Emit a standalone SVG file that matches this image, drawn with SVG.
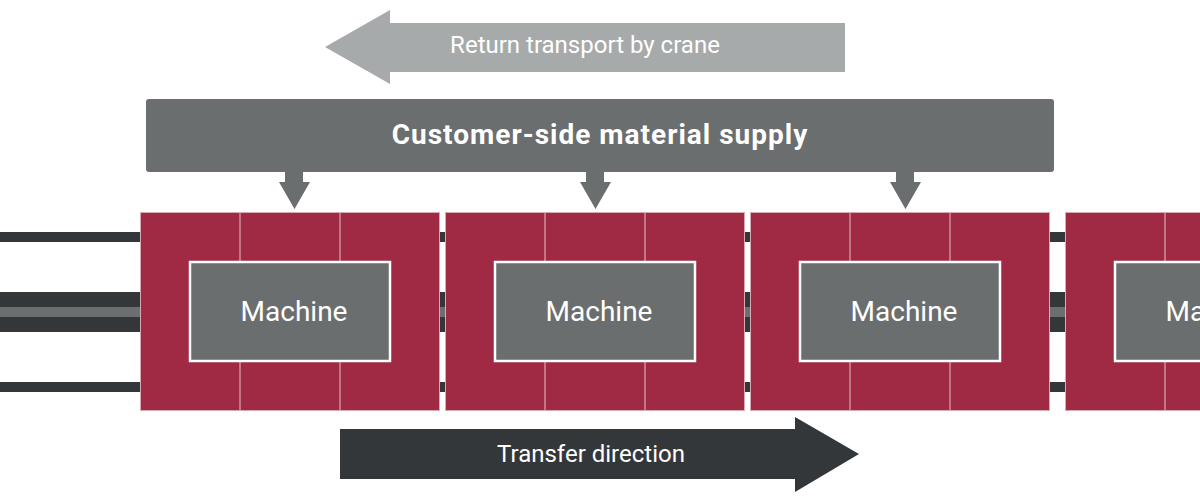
<svg xmlns="http://www.w3.org/2000/svg" width="1200" height="500" viewBox="0 0 1200 500">
<defs>
<style>
.rail{fill:#33373a}
.railmid{fill:#6b6f6f}
.block{fill:#a02944;stroke:#d9a9b4;stroke-width:1}
.div{stroke:#d9a9b4;stroke-width:1.2}
.mach{fill:#6b6e6e;stroke:#ffffff;stroke-width:2.5}
.mtxt{font-family:Roboto,"Liberation Sans",sans-serif;font-size:28px;fill:#ffffff;text-anchor:middle;dominant-baseline:central}
.down{fill:#6b6e6e}
</style>
</defs>
<rect width="1200" height="500" fill="#ffffff"/>

<g id="return-arrow">
<polygon points="325,47 390,10 390,23 845,23 845,72 390,72 390,84" fill="#a7aaaa"/>
<text x="585" y="45" font-family="Roboto,'Liberation Sans',sans-serif" font-size="24" fill="#ffffff" text-anchor="middle" dominant-baseline="central">Return transport by crane</text>
</g>

<g id="supply">
<rect x="146" y="99" width="908" height="73" rx="3" fill="#6b6e6e"/>
<text x="600" y="134" font-family="Roboto,'Liberation Sans',sans-serif" font-size="28" font-weight="bold" letter-spacing="1" fill="#ffffff" text-anchor="middle" dominant-baseline="central">Customer-side material supply</text>
</g>

<g id="rails">
<rect class="rail" x="0" y="232" width="1200" height="10"/>
<rect class="rail" x="0" y="292" width="1200" height="40"/>
<rect class="railmid" x="0" y="307" width="1200" height="10"/>
<rect class="rail" x="0" y="382" width="1200" height="10"/>
</g>

<g id="machine-1">
<rect class="block" x="140.5" y="212.5" width="299" height="198"/>
<line class="div" x1="240" y1="212" x2="240" y2="262"/>
<line class="div" x1="340" y1="212" x2="340" y2="262"/>
<line class="div" x1="240" y1="362" x2="240" y2="411"/>
<line class="div" x1="340" y1="362" x2="340" y2="411"/>
<rect class="mach" x="190" y="262" width="200" height="99"/>
<text class="mtxt" x="294" y="311">Machine</text>
</g>

<g id="machine-2">
<rect class="block" x="445.5" y="212.5" width="299" height="198"/>
<line class="div" x1="545" y1="212" x2="545" y2="262"/>
<line class="div" x1="645" y1="212" x2="645" y2="262"/>
<line class="div" x1="545" y1="362" x2="545" y2="411"/>
<line class="div" x1="645" y1="362" x2="645" y2="411"/>
<rect class="mach" x="495" y="262" width="200" height="99"/>
<text class="mtxt" x="599" y="311">Machine</text>
</g>

<g id="machine-3">
<rect class="block" x="750.5" y="212.5" width="299" height="198"/>
<line class="div" x1="850" y1="212" x2="850" y2="262"/>
<line class="div" x1="950" y1="212" x2="950" y2="262"/>
<line class="div" x1="850" y1="362" x2="850" y2="411"/>
<line class="div" x1="950" y1="362" x2="950" y2="411"/>
<rect class="mach" x="800" y="262" width="200" height="99"/>
<text class="mtxt" x="904" y="311">Machine</text>
</g>

<g id="machine-4">
<rect class="block" x="1065.5" y="212.5" width="299" height="198"/>
<line class="div" x1="1165" y1="212" x2="1165" y2="262"/>
<line class="div" x1="1165" y1="362" x2="1165" y2="411"/>
<rect class="mach" x="1115" y="262" width="200" height="99"/>
<text class="mtxt" x="1219" y="311">Machine</text>
</g>

<g id="connectors">
<polygon class="down" points="285,172 303,172 303,182 310,182 294.5,209 279,182 285,182"/>
<polygon class="down" points="586,172 604,172 604,182 611,182 595.5,209 580,182 586,182"/>
<polygon class="down" points="896,172 914,172 914,182 921,182 905.5,209 890,182 896,182"/>
</g>

<g id="transfer-arrow">
<polygon points="340,429 795,429 795,417 859,454 795,492 795,479 340,479" fill="#33373a"/>
<text x="591" y="454" font-family="Roboto,'Liberation Sans',sans-serif" font-size="24" fill="#ffffff" text-anchor="middle" dominant-baseline="central">Transfer direction</text>
</g>
</svg>
